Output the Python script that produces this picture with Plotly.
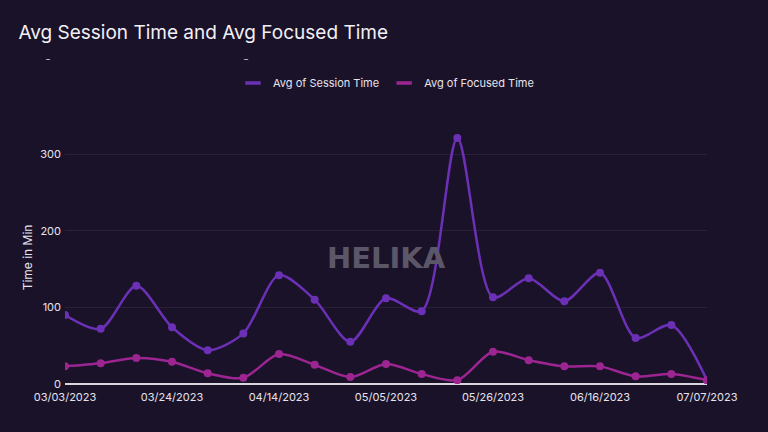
import plotly.graph_objects as go

dates = ["2023-03-03","2023-03-10","2023-03-17","2023-03-24","2023-03-31","2023-04-07",
         "2023-04-14","2023-04-21","2023-04-28","2023-05-05","2023-05-12","2023-05-19",
         "2023-05-26","2023-06-02","2023-06-09","2023-06-16","2023-06-23","2023-06-30","2023-07-07"]
session_time = [90, 72, 128, 74, 44, 66, 142, 110, 55, 112, 95, 321, 113, 138, 108, 145, 60, 77, 5]
focused_time = [23, 27, 34, 29, 14, 8, 39, 25, 9, 26, 13, 5, 42, 31, 23, 23, 10, 13, 5]
series_names = ["Avg of Session Time", "Avg of Focused Time"]
series_colors = ["#6b30b5", "#9c2592"]

BG = "#1a1228"
TXT = "#e6e3ec"
FONT = "Inter"

fig = go.Figure()
for vals, name, col in zip([session_time, focused_time], series_names, series_colors):
    fig.add_trace(go.Scatter(x=dates, y=vals, name=name, mode="lines+markers", showlegend=False,
                             line=dict(color=col, width=2.5, shape="spline", smoothing=0.8),
                             marker=dict(size=8, color=col)))
for name, col in zip(series_names, series_colors):
    fig.add_trace(go.Scatter(x=[None], y=[None], name=name, mode="markers",
                             marker=dict(symbol="line-ew-open", size=11, color=col,
                                         line=dict(color=col, width=3.5))))

fig.update_layout(
    width=768, height=432,
    paper_bgcolor=BG, plot_bgcolor=BG,
    font=dict(family=FONT, color=TXT, size=11),
    margin=dict(l=65, r=61, t=131, b=48),
    title=dict(text="Avg Session Time and Avg Focused Time", x=0.024, xanchor="left",
               y=0.925, yanchor="middle", font=dict(size=19, color="#f2f0f5", family=FONT)),
    legend=dict(orientation="h", x=0.5, xanchor="center", y=1.0 + (131-83)/253, yanchor="middle",
                font=dict(size=11, color=TXT), bgcolor="rgba(0,0,0,0)", itemwidth=30),
    xaxis=dict(type="date", range=["2023-03-03", "2023-07-07"], tick0="2023-03-03", dtick=21*86400000,
               tickformat="%m/%d/%Y", showgrid=False, zeroline=False, showline=False,
               tickfont=dict(size=11, color=TXT), ticks="", ticklabelstandoff=5),
    yaxis=dict(range=[0, 330], tickvals=[0, 100, 200, 300], showgrid=True, gridcolor="#2a2139",
               zeroline=True, zerolinecolor="#d8d5de", zerolinewidth=1.5, showline=False,
               tickfont=dict(size=11, color=TXT), ticks="", ticklabelstandoff=3,
               title=dict(text="Time in Min", font=dict(size=12, color=TXT), standoff=5)),
    annotations=[
        dict(text="<b>HELIKA</b>", x=0.5, y=0.5, xref="paper", yref="paper",
             xanchor="center", yanchor="middle", showarrow=False,
             font=dict(size=29, color="#5c5768", family="DejaVu Sans")),
        dict(text="–", x=48, y=432 - 59, xref="paper", yref="paper", showarrow=False,
             xanchor="center", yanchor="middle", font=dict(size=8, color=TXT)),
        dict(text="–", x=246, y=432 - 59, xref="paper", yref="paper", showarrow=False,
             xanchor="center", yanchor="middle", font=dict(size=8, color=TXT)),
    ],
)
# convert pixel positions of the small dashes to paper coordinates
pw, ph = 768 - 65 - 61, 432 - 131 - 48
for a in fig.layout.annotations[1:]:
    a.x = (a.x - 65) / pw
    a.y = (a.y - 48) / ph

fig.write_html("out.html", config={"displayModeBar": False})

with open("out.html", "r", encoding="utf-8") as f:
    html = f.read()
html = html.replace("<head>", "<head><style>html,body{margin:0;padding:0;overflow:hidden;background:%s}</style>" % BG, 1)
with open("out.html", "w", encoding="utf-8") as f:
    f.write(html)
